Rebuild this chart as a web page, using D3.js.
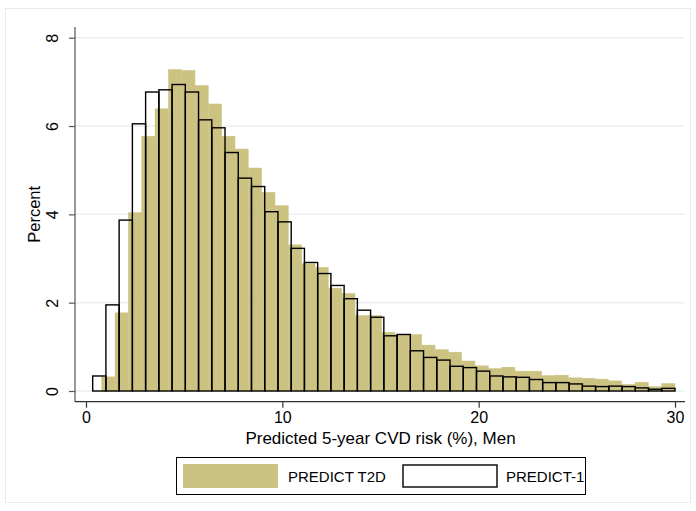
<!DOCTYPE html>
<html>
<head>
<meta charset="utf-8">
<script src="https://cdn.jsdelivr.net/npm/d3@7"></script>
<style>
  body { margin: 0; background: #fff; }
  svg { display: block; font-family: "Liberation Sans", Arial, sans-serif; }
</style>
</head>
<body>
<script>
/*
 * Two overlaid histograms of predicted 5-year CVD risk (men).
 */

// PREDICT T2D: 43 bins from 0.80 to 30 (percent per bin)
const t2dStart = 0.80;
const t2dEnd = 30;
const t2dPct = [
  0.32, 1.77, 4.04, 5.77, 6.39, 7.28, 7.26, 6.92, 6.50, 5.77,
  5.48, 5.05, 4.50, 4.20, 3.31, 2.88, 2.80, 2.33, 2.21, 1.71,
  1.71, 1.33, 1.28, 1.28, 1.04, 0.94, 0.88, 0.68, 0.57, 0.51,
  0.54, 0.45, 0.45, 0.35, 0.36, 0.30, 0.29, 0.27, 0.23, 0.15,
  0.20, 0.10, 0.17
];

// PREDICT-1: 44 bins from 0.34 to 30
const p1Start = 0.34;
const p1End = 30;
const p1Pct = [
  0.34, 1.95, 3.87, 6.05, 6.77, 6.82, 6.94, 6.77, 6.14, 5.96,
  5.40, 4.82, 4.63, 4.06, 3.83, 3.23, 2.91, 2.66, 2.39, 2.09,
  1.83, 1.67, 1.25, 1.28, 0.91, 0.76, 0.70, 0.56, 0.53, 0.45,
  0.34, 0.32, 0.31, 0.26, 0.19, 0.19, 0.16, 0.11, 0.10, 0.11,
  0.10, 0.07, 0.04, 0.06
];

const xTicks = [0, 10, 20, 30];
const yTicks = [0, 2, 4, 6, 8];
const legendLabels = ['PREDICT T2D', 'PREDICT-1'];

const WIDTH = 696;
const HEIGHT = 511;
const OLIVE = '#ccc383';

const svg = d3.select('body')
  .append('svg')
    .attr('width', WIDTH)
    .attr('height', HEIGHT);

// outer frame
svg.append('rect')
    .attr('x', 5.5)
    .attr('y', 8.5)
    .attr('width', 685)
    .attr('height', 494)
    .attr('fill', '#fff')
    .attr('stroke', '#e6eaed');

const x = d3.scaleLinear().domain([0, 30]).range([86, 675]);
const y = d3.scaleLinear().domain([0, 8]).range([391, 37.7]);

// turn a list of bin heights into bin objects
const toBins = (start, end, pct) => {
  const w = (end - start) / pct.length;
  return pct.map((v, i) => ({ x0: start + i * w, x1: start + (i + 1) * w, v }));
};

// grid lines
svg.append('g')
  .selectAll('line')
  .data(yTicks)
  .join('line')
    .attr('x1', 75)
    .attr('x2', 685)
    .attr('y1', d => y(d))
    .attr('y2', d => y(d))
    .attr('stroke', '#e9f0f3')
    .attr('stroke-width', 1.5);

// PREDICT T2D filled bars
svg.append('g')
  .selectAll('rect')
  .data(toBins(t2dStart, t2dEnd, t2dPct))
  .join('rect')
    .attr('x', d => x(d.x0))
    .attr('y', d => y(d.v))
    .attr('width', d => x(d.x1) - x(d.x0))
    .attr('height', d => y(0) - y(d.v))
    .attr('fill', OLIVE)
    .attr('stroke', OLIVE)
    .attr('stroke-width', 0.4);

// PREDICT-1 outlined bars
svg.append('g')
  .selectAll('rect')
  .data(toBins(p1Start, p1End, p1Pct))
  .join('rect')
    .attr('x', d => x(d.x0))
    .attr('y', d => y(d.v))
    .attr('width', d => x(d.x1) - x(d.x0))
    .attr('height', d => y(0) - y(d.v))
    .attr('fill', 'none')
    .attr('stroke', '#000')
    .attr('stroke-width', 1.4);

// axis lines
svg.append('line')
    .attr('x1', 75).attr('x2', 75)
    .attr('y1', 27).attr('y2', 402)
    .attr('stroke', '#555').attr('stroke-width', 1.2);
svg.append('line')
    .attr('x1', 75).attr('x2', 685)
    .attr('y1', 401.7).attr('y2', 401.7)
    .attr('stroke', '#333').attr('stroke-width', 1.2);

// y axis ticks, labels rotated
const yAxis = svg.append('g')
    .attr('transform', 'translate(75,0)')
    .call(d3.axisLeft(y).tickValues(yTicks).tickSize(6).tickPadding(0));
yAxis.select('.domain').remove();
yAxis.selectAll('.tick line').attr('stroke', '#555').attr('stroke-width', 1.2);
yAxis.selectAll('.tick text')
    .attr('x', 0)
    .attr('dy', 0)
    .attr('transform', 'translate(-17,0) rotate(-90)')
    .attr('text-anchor', 'middle')
    .style('font-size', '16px')
    .style('font-family', '"Liberation Sans", Arial, sans-serif')
    .attr('fill', '#000');

// x axis ticks
const xAxis = svg.append('g')
    .attr('transform', 'translate(0,401.7)')
    .call(d3.axisBottom(x).tickValues(xTicks).tickSize(6).tickPadding(4));
xAxis.select('.domain').remove();
xAxis.selectAll('.tick line').attr('stroke', '#333').attr('stroke-width', 1.2);
xAxis.selectAll('.tick text')
    .style('font-size', '16px')
    .style('font-family', '"Liberation Sans", Arial, sans-serif')
    .attr('fill', '#000');

// axis titles
svg.append('text')
    .attr('x', x(15))
    .attr('y', 444)
    .attr('text-anchor', 'middle')
    .style('font-size', '17px')
    .text('Predicted 5-year CVD risk (%), Men');

svg.append('text')
    .attr('transform', `translate(40,${y(4)}) rotate(-90)`)
    .attr('text-anchor', 'middle')
    .style('font-size', '16.5px')
    .text('Percent');

// legend
const legend = svg.append('g').attr('transform', 'translate(176,457)');
legend.append('rect')
    .attr('x', 0.5).attr('y', 0.5)
    .attr('width', 409).attr('height', 37)
    .attr('fill', '#fff')
    .attr('stroke', '#000')
    .attr('stroke-width', 1);
legend.append('rect')
    .attr('x', 7).attr('y', 7)
    .attr('width', 95).attr('height', 24)
    .attr('fill', OLIVE);
legend.append('text')
    .attr('x', 112).attr('y', 24.5)
    .style('font-size', '15px')
    .text(legendLabels[0]);
legend.append('rect')
    .attr('x', 227).attr('y', 8)
    .attr('width', 94).attr('height', 22)
    .attr('fill', 'none')
    .attr('stroke', '#000')
    .attr('stroke-width', 1.4);
legend.append('text')
    .attr('x', 330).attr('y', 24.5)
    .style('font-size', '15px')
    .text(legendLabels[1]);
</script>
</body>
</html>
